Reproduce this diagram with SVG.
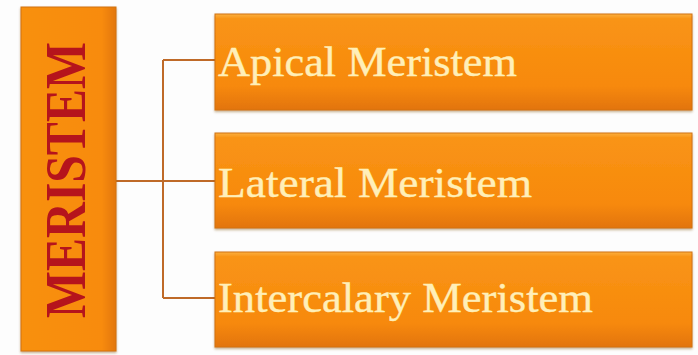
<svg xmlns="http://www.w3.org/2000/svg" width="698" height="355" viewBox="0 0 698 355">
  <defs>
    <linearGradient id="boxFill" x1="0" y1="0" x2="0" y2="1">
      <stop offset="0" stop-color="#fbb040"/>
      <stop offset="0.05" stop-color="#f99416"/>
      <stop offset="0.75" stop-color="#f7890b"/>
      <stop offset="1" stop-color="#e27408"/>
    </linearGradient>
    <linearGradient id="sideFill" x1="0" y1="0" x2="1" y2="0">
      <stop offset="0" stop-color="#f8900f"/>
      <stop offset="0.85" stop-color="#f88b0c"/>
      <stop offset="1" stop-color="#e2760a"/>
    </linearGradient>
    <filter id="shade" x="-5%" y="-5%" width="110%" height="115%">
      <feDropShadow dx="0" dy="1.5" stdDeviation="1.2" flood-color="#7a4a10" flood-opacity="0.45"/>
    </filter>
  </defs>
  <style>
    .box { fill: url(#boxFill); stroke: #d27310; stroke-width: 1; filter: url(#shade); }
    .side { fill: url(#sideFill); stroke: #d27310; stroke-width: 1; filter: url(#shade); }
    .label { font-family: "Liberation Serif", "DejaVu Serif", serif; font-size: 43px; fill: #ffefb8; stroke: #ffefb8; stroke-width: 0.4; }
    .title { font-family: "Liberation Serif", "DejaVu Serif", serif; font-size: 56px; font-weight: bold; fill: #b5141c; }
    .link { fill: none; stroke: #bf6a28; stroke-width: 2; }
  </style>
  <rect width="698" height="355" fill="#fdfdfd"/>

  <g id="connectors">
    <path class="link" d="M116 181 H215"/>
    <path class="link" d="M163 60 V298"/>
    <path class="link" d="M163 60 H215"/>
    <path class="link" d="M163 298 H215"/>
  </g>

  <g id="meristem">
    <rect class="side" x="21" y="7" width="95" height="344"/>
    <text class="title" transform="translate(85,318) rotate(-90)" textLength="276" lengthAdjust="spacingAndGlyphs">MERISTEM</text>
  </g>

  <g id="apical">
    <rect class="box" x="215" y="14" width="477" height="96"/>
    <text class="label" x="218" y="76" textLength="299" lengthAdjust="spacingAndGlyphs">Apical Meristem</text>
  </g>

  <g id="lateral">
    <rect class="box" x="215" y="133" width="477" height="95"/>
    <text class="label" x="218" y="197" textLength="314" lengthAdjust="spacingAndGlyphs">Lateral Meristem</text>
  </g>

  <g id="intercalary">
    <rect class="box" x="215" y="252" width="477" height="95"/>
    <text class="label" x="218" y="312" textLength="375" lengthAdjust="spacingAndGlyphs">Intercalary Meristem</text>
  </g>
</svg>
